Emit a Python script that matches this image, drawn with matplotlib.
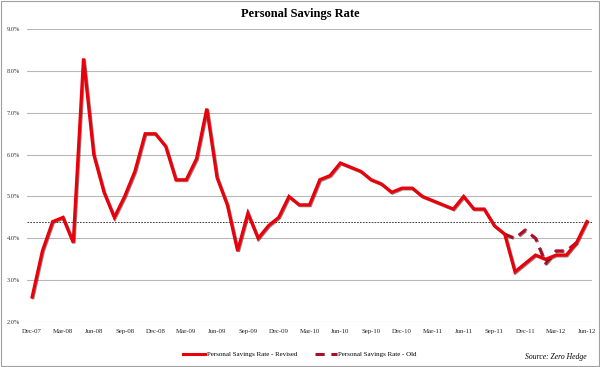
import matplotlib
matplotlib.use("Agg")
import matplotlib.pyplot as plt
import matplotlib.patheffects as pe
from matplotlib.lines import Line2D
from matplotlib.patches import Rectangle
import numpy as np

months = ["Dec-07", "Jan-08", "Feb-08", "Mar-08", "Apr-08", "May-08", "Jun-08", "Jul-08", "Aug-08",
          "Sep-08", "Oct-08", "Nov-08", "Dec-08", "Jan-09", "Feb-09", "Mar-09", "Apr-09", "May-09",
          "Jun-09", "Jul-09", "Aug-09", "Sep-09", "Oct-09", "Nov-09", "Dec-09", "Jan-10", "Feb-10",
          "Mar-10", "Apr-10", "May-10", "Jun-10", "Jul-10", "Aug-10", "Sep-10", "Oct-10", "Nov-10",
          "Dec-10", "Jan-11", "Feb-11", "Mar-11", "Apr-11", "May-11", "Jun-11", "Jul-11", "Aug-11",
          "Sep-11", "Oct-11", "Nov-11", "Dec-11", "Jan-12", "Feb-12", "Mar-12", "Apr-12", "May-12",
          "Jun-12"]

revised = [2.6, 3.7, 4.4, 4.5, 3.9, 8.3, 6.0, 5.1, 4.5,
           5.0, 5.6, 6.5, 6.5, 6.2, 5.4, 5.4, 5.9, 7.1,
           5.45, 4.8, 3.7, 4.6, 4.0, 4.3, 4.5, 5.0, 4.8,
           4.8, 5.4, 5.5, 5.8, 5.7, 5.6, 5.4, 5.3, 5.1,
           5.2, 5.2, 5.0, 4.9, 4.8, 4.7, 5.0, 4.7, 4.7,
           4.3, 4.1, 3.2, 3.4, 3.6, 3.5, 3.6, 3.6, 3.9,
           4.4]

old_start = 46
old = [4.1, 4.0, 4.2, 4.0, 3.4, 3.7, 3.7, 3.9]

avg_level = 4.4
yticks = [2, 3, 4, 5, 6, 7, 8, 9]

title = "Personal Savings Rate"
label_revised = "Personal Savings Rate - Revised"
label_old = "Personal Savings Rate - Old"
source = "Source: Zero Hedge"

serif = ["Liberation Serif", "DejaVu Serif"]

fig = plt.figure(figsize=(6.0, 3.67), dpi=100)
ax = fig.add_axes([0.045, 0.1226, 0.9417, 0.798])

x = np.arange(len(months))
x_old = np.arange(old_start, old_start + len(old))

shadow = [pe.SimpleLineShadow(offset=(0.6, -0.6), shadow_color="#400000", alpha=0.5), pe.Normal()]

ax.plot(x_old, old, color="#a8102a", lw=2.2, ls=(0, (3, 2.2)), zorder=3,
        solid_capstyle="butt", dash_capstyle="butt", path_effects=shadow)
ax.plot(x, revised, color="#e8000b", lw=2.3, zorder=4, solid_joinstyle="miter",
        path_effects=shadow)

ax.axhline(avg_level, color="#202020", lw=0.6, ls=(0, (2, 1.5)), zorder=2)

ax.set_xlim(-0.5, len(months) - 0.5)
ax.set_ylim(2, 9)
ax.set_yticks(yticks)
ax.set_yticklabels([f"{v:.1f}%" for v in yticks], fontsize=4.6, family=serif, color="#333333")
ax.set_xticks(x[::3])
ax.set_xticklabels(months[::3], fontsize=4.9, family=serif, color="#222222")
ax.tick_params(axis="both", length=0)
ax.tick_params(axis="y", pad=5)
ax.tick_params(axis="x", pad=5)
ax.grid(axis="y", color="#b8b8b8", lw=0.8)
ax.set_axisbelow(True)
for s in ax.spines.values():
    s.set_visible(False)

fig.text(0.5, 0.962, title, ha="center", va="center", fontsize=9, fontweight="bold", family=serif)

handles = [Line2D([], [], color="#e8000b", lw=2.2),
           Line2D([], [], color="#a8102a", lw=2.2, ls=(0, (3, 2.2)))]
fig.legend(handles, [label_revised, label_old], loc="center", bbox_to_anchor=(0.5, 0.035),
           ncol=2, frameon=False, prop={"family": serif, "size": 5}, handlelength=3.2,
           columnspacing=2.5, handletextpad=0.2)

fig.text(0.978, 0.028, source, ha="right", va="center", fontsize=5.5, style="italic", family=serif)

fig.patches.append(Rectangle((0.001, 0.002), 0.997, 0.995, transform=fig.transFigure,
                             fill=False, edgecolor="#a0a0a0", lw=0.8))

fig.savefig("out.png", dpi=100)
